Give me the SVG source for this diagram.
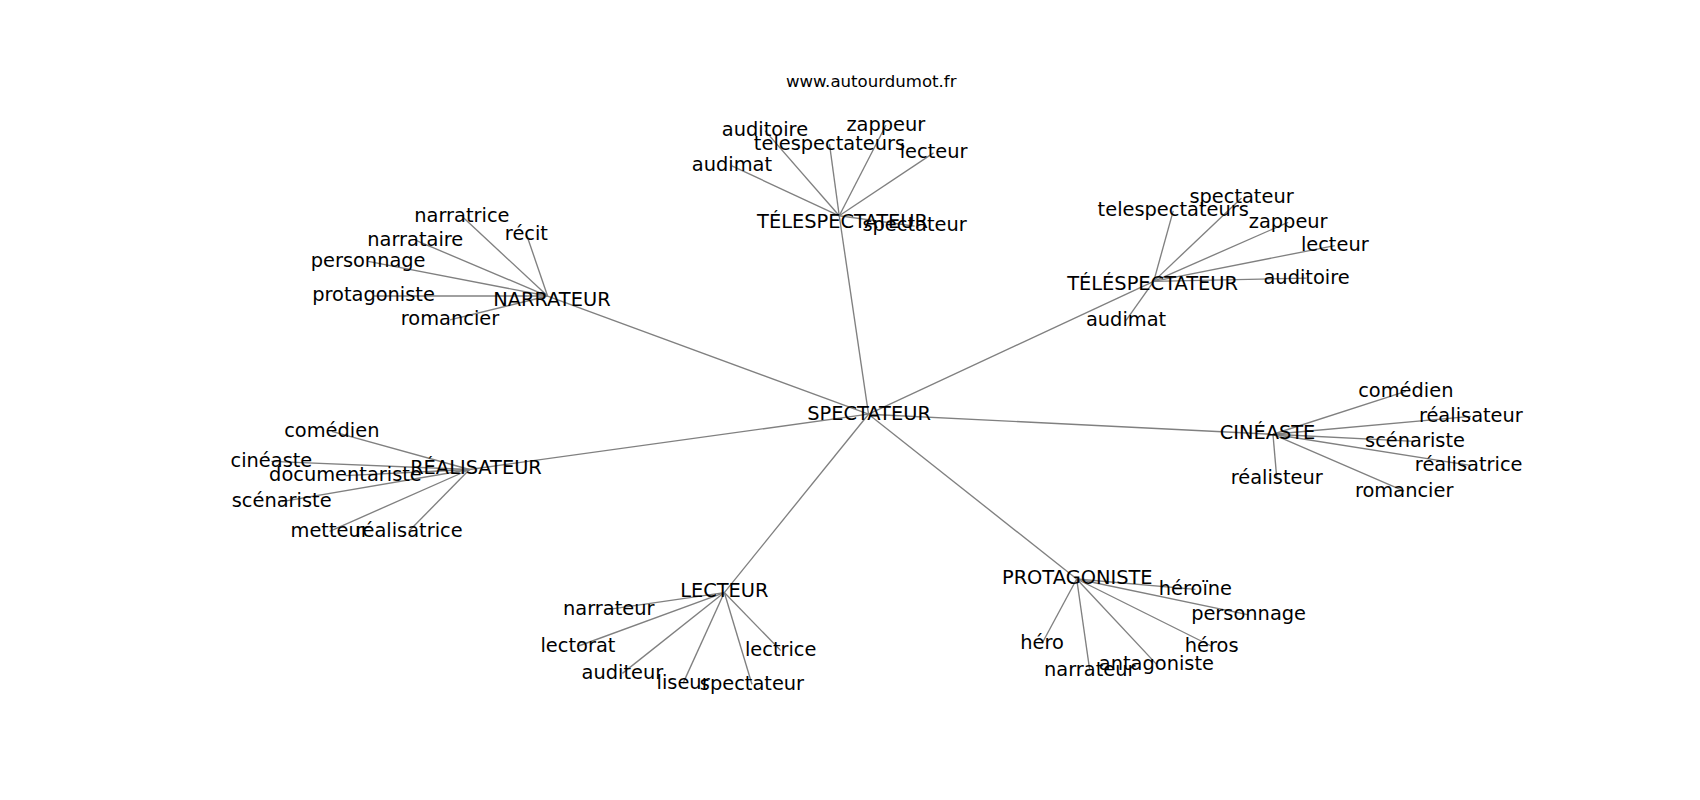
<svg xmlns="http://www.w3.org/2000/svg" width="1700" height="800" viewBox="0 0 1700 800">
<style>
.e{stroke:#808080;stroke-width:1.25;fill:none}
.t{font-family:"DejaVu Sans","Liberation Sans",sans-serif;font-size:17.9px;fill:#000;text-anchor:middle}
.ti{font-family:"DejaVu Sans","Liberation Sans",sans-serif;font-size:15.3px;fill:#000;text-anchor:middle}
</style>
<rect width="1700" height="800" fill="#fff"/>
<g transform="scale(1.0843)">
<g id="connectors">
<line class="e" x1="801" y1="382" x2="774" y2="199"/>
<line class="e" x1="801" y1="382" x2="1064" y2="259.5"/>
<line class="e" x1="801" y1="382" x2="505" y2="273"/>
<line class="e" x1="801" y1="382" x2="433" y2="433"/>
<line class="e" x1="801" y1="382" x2="1174" y2="400.5"/>
<line class="e" x1="801" y1="382" x2="668" y2="546.5"/>
<line class="e" x1="801" y1="382" x2="993" y2="534"/>
<line class="e" x1="774" y1="199" x2="705.5" y2="120.5"/>
<line class="e" x1="774" y1="199" x2="817" y2="115.5"/>
<line class="e" x1="774" y1="199" x2="765" y2="133"/>
<line class="e" x1="774" y1="199" x2="861" y2="141"/>
<line class="e" x1="774" y1="199" x2="675" y2="153"/>
<line class="e" x1="774" y1="199" x2="843.5" y2="208.5"/>
<line class="e" x1="505" y1="273" x2="426" y2="199.5"/>
<line class="e" x1="505" y1="273" x2="485.5" y2="216"/>
<line class="e" x1="505" y1="273" x2="383" y2="221.5"/>
<line class="e" x1="505" y1="273" x2="339.5" y2="241"/>
<line class="e" x1="505" y1="273" x2="344.5" y2="273"/>
<line class="e" x1="505" y1="273" x2="415" y2="295"/>
<line class="e" x1="1064" y1="259.5" x2="1145" y2="182.5"/>
<line class="e" x1="1064" y1="259.5" x2="1082" y2="194.5"/>
<line class="e" x1="1064" y1="259.5" x2="1188" y2="205"/>
<line class="e" x1="1064" y1="259.5" x2="1231" y2="226.5"/>
<line class="e" x1="1064" y1="259.5" x2="1205" y2="256.5"/>
<line class="e" x1="1064" y1="259.5" x2="1038.5" y2="295.5"/>
<line class="e" x1="433" y1="433" x2="306" y2="397.8"/>
<line class="e" x1="433" y1="433" x2="250.3" y2="425.5"/>
<line class="e" x1="433" y1="433" x2="318.6" y2="438.7"/>
<line class="e" x1="433" y1="433" x2="259.8" y2="462.6"/>
<line class="e" x1="433" y1="433" x2="304" y2="490"/>
<line class="e" x1="433" y1="433" x2="377" y2="490"/>
<line class="e" x1="1174" y1="400.5" x2="1296.5" y2="361"/>
<line class="e" x1="1174" y1="400.5" x2="1356.5" y2="384"/>
<line class="e" x1="1174" y1="400.5" x2="1305" y2="407"/>
<line class="e" x1="1174" y1="400.5" x2="1354.5" y2="429"/>
<line class="e" x1="1174" y1="400.5" x2="1177.5" y2="441"/>
<line class="e" x1="1174" y1="400.5" x2="1295" y2="453"/>
<line class="e" x1="668" y1="546.5" x2="561.4" y2="562"/>
<line class="e" x1="668" y1="546.5" x2="533" y2="596"/>
<line class="e" x1="668" y1="546.5" x2="574" y2="621"/>
<line class="e" x1="668" y1="546.5" x2="630" y2="630"/>
<line class="e" x1="668" y1="546.5" x2="693.5" y2="631"/>
<line class="e" x1="668" y1="546.5" x2="720" y2="600"/>
<line class="e" x1="993" y1="534" x2="1102.5" y2="543.5"/>
<line class="e" x1="993" y1="534" x2="1151.5" y2="567"/>
<line class="e" x1="993" y1="534" x2="1117.5" y2="596"/>
<line class="e" x1="993" y1="534" x2="1066.5" y2="612.5"/>
<line class="e" x1="993" y1="534" x2="1005" y2="618"/>
<line class="e" x1="993" y1="534" x2="961" y2="593.5"/>
</g>
<text class="ti" x="803.5" y="80.5">www.autourdumot.fr</text>
<g id="n-spectateur"><text class="t" x="801.5" y="387">SPECTATEUR</text></g>
<g id="n-telespectateur-top"><text class="t" x="777" y="210">TÉLESPECTATEUR</text></g>
<g id="n-telespectateur-right"><text class="t" x="1063" y="267.5">TÉLÉSPECTATEUR</text></g>
<g id="n-narrateur"><text class="t" x="509" y="282.5">NARRATEUR</text></g>
<g id="n-realisateur"><text class="t" x="439" y="437">RÉALISATEUR</text></g>
<g id="n-cineaste"><text class="t" x="1169" y="405">CINÉASTE</text></g>
<g id="n-lecteur"><text class="t" x="668" y="551">LECTEUR</text></g>
<g id="n-protagoniste"><text class="t" x="993.5" y="538.5">PROTAGONISTE</text></g>

<g id="t1-auditoire"><text class="t" x="705.5" y="125.5">auditoire</text></g>
<g id="t1-zappeur"><text class="t" x="817" y="120.5">zappeur</text></g>
<g id="t1-telespectateurs"><text class="t" x="765" y="138">telespectateurs</text></g>
<g id="t1-lecteur"><text class="t" x="861" y="146">lecteur</text></g>
<g id="t1-audimat"><text class="t" x="675" y="158">audimat</text></g>
<g id="t1-spectateur"><text class="t" x="843.5" y="213.5">spectateur</text></g>

<g id="n-narratrice"><text class="t" x="426" y="204.5">narratrice</text></g>
<g id="n-recit"><text class="t" x="485.5" y="221">récit</text></g>
<g id="n-narrataire"><text class="t" x="383" y="226.5">narrataire</text></g>
<g id="n-personnage"><text class="t" x="339.5" y="246">personnage</text></g>
<g id="n-protagoniste-leaf"><text class="t" x="344.5" y="278">protagoniste</text></g>
<g id="n-romancier"><text class="t" x="415" y="300">romancier</text></g>

<g id="t2-spectateur"><text class="t" x="1145" y="187.5">spectateur</text></g>
<g id="t2-telespectateurs"><text class="t" x="1082" y="199.5">telespectateurs</text></g>
<g id="t2-zappeur"><text class="t" x="1188" y="210">zappeur</text></g>
<g id="t2-lecteur"><text class="t" x="1231" y="231.5">lecteur</text></g>
<g id="t2-auditoire"><text class="t" x="1205" y="261.5">auditoire</text></g>
<g id="t2-audimat"><text class="t" x="1038.5" y="300.5">audimat</text></g>

<g id="r-comedien"><text class="t" x="306" y="402.8">comédien</text></g>
<g id="r-cineaste"><text class="t" x="250.3" y="430.5">cinéaste</text></g>
<g id="r-documentariste"><text class="t" x="318.6" y="443.7">documentariste</text></g>
<g id="r-scenariste"><text class="t" x="259.8" y="467.6">scénariste</text></g>
<g id="r-metteur"><text class="t" x="304" y="495">metteur</text></g>
<g id="r-realisatrice"><text class="t" x="377" y="495">réalisatrice</text></g>

<g id="c-comedien"><text class="t" x="1296.5" y="366">comédien</text></g>
<g id="c-realisateur"><text class="t" x="1356.5" y="389">réalisateur</text></g>
<g id="c-scenariste"><text class="t" x="1305" y="412">scénariste</text></g>
<g id="c-realisatrice"><text class="t" x="1354.5" y="434">réalisatrice</text></g>
<g id="c-realisteur"><text class="t" x="1177.5" y="446">réalisteur</text></g>
<g id="c-romancier"><text class="t" x="1295" y="458">romancier</text></g>

<g id="l-narrateur"><text class="t" x="561.4" y="567">narrateur</text></g>
<g id="l-lectorat"><text class="t" x="533" y="601">lectorat</text></g>
<g id="l-auditeur"><text class="t" x="574" y="626">auditeur</text></g>
<g id="l-liseur"><text class="t" x="630" y="635">liseur</text></g>
<g id="l-spectateur"><text class="t" x="693.5" y="636">spectateur</text></g>
<g id="l-lectrice"><text class="t" x="720" y="605">lectrice</text></g>

<g id="p-heroine"><text class="t" x="1102.5" y="548.5">héroïne</text></g>
<g id="p-personnage"><text class="t" x="1151.5" y="572">personnage</text></g>
<g id="p-heros"><text class="t" x="1117.5" y="601">héros</text></g>
<g id="p-antagoniste"><text class="t" x="1066.5" y="617.5">antagoniste</text></g>
<g id="p-narrateur"><text class="t" x="1005" y="623">narrateur</text></g>
<g id="p-hero"><text class="t" x="961" y="598.5">héro</text></g>
</g>
</svg>
